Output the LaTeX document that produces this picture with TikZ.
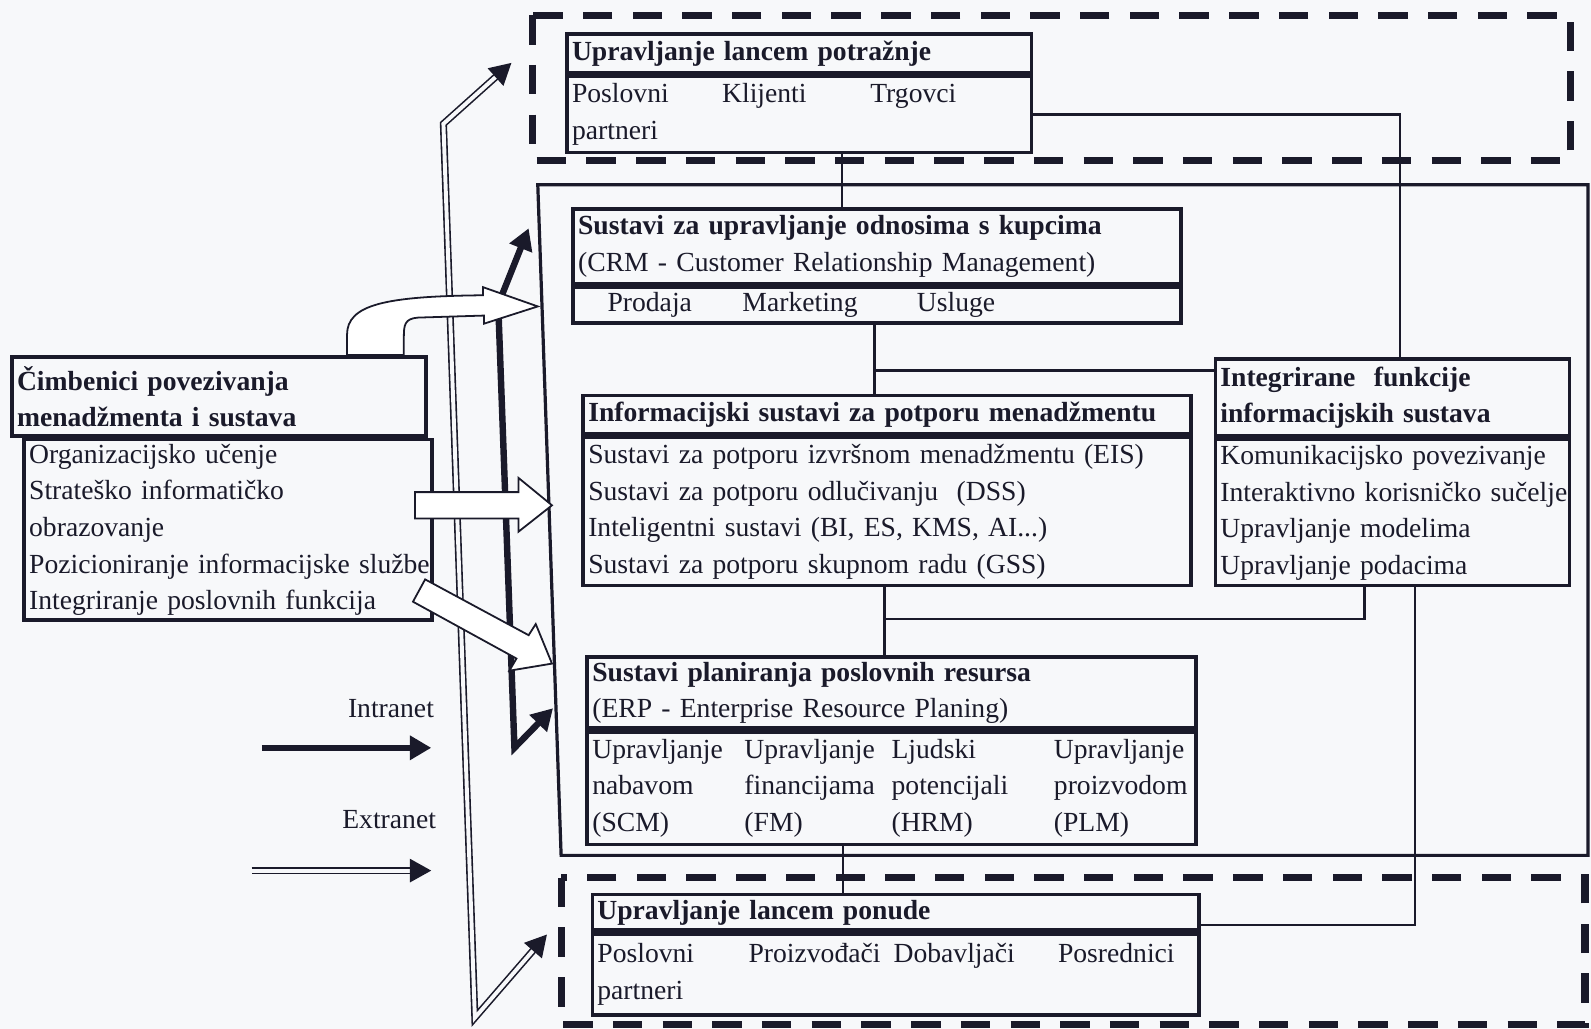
\documentclass[tikz,border=0pt]{standalone}
\usepackage{fontspec}
\setmainfont{Liberation Serif}
\usetikzlibrary{arrows.meta, positioning, calc}
\definecolor{ink}{HTML}{1A1A2A}
\definecolor{paper}{HTML}{F7F8FA}
\newcommand{\figfont}{\fontsize{15.5}{20.5}\selectfont}
\tikzset{
  head/.style     = {rectangle, draw=ink, line width=2pt, anchor=north west,
                      align=left, font=\figfont\bfseries, text=ink,
                      inner xsep=0.1cm, inner ysep=2pt},
  body/.style     = {rectangle, draw=ink, line width=2pt, align=left,
                      font=\figfont, text=ink, inner xsep=0.1cm, inner ysep=2pt},
  legend/.style   = {font=\figfont, text=ink, inner sep=0pt, anchor=east},
  frame/.style    = {draw=ink, line width=1.8pt},
  zone/.style     = {draw=ink, line width=4pt, dash pattern=on 0.58cm off 0.4cm},
  link/.style     = {draw=ink, line width=1.3pt},
  nettip/.tip     = {Triangle[length=0.42cm, width=0.46cm]},
  intranet/.style = {draw=ink, line width=3.6pt, line join=miter, -nettip},
  extranet/.style = {draw=ink, double=paper, double distance=2.2pt, line width=0.9pt,
                      line join=miter, -nettip},
  hollow/.style   = {draw=ink, fill=white, line width=1pt, line join=miter},
}

\begin{document}
\begin{tikzpicture}[x=0.02cm, y=-0.02cm]

\useasboundingbox (0,0) rectangle (1568,1014);
\fill[paper] (0,0) rectangle (1568,1014);

% ---- Zones ----
\draw[zone] (525,15) rectangle (1548,158);
\draw[frame] (530,182) -- (1565,182) -- (1565,843) -- (553,843) -- cycle;
\draw[zone] (553,865) rectangle (1562,1010);

% ---- Demand chain ----
\node[head, text width=8.96cm, minimum height=0.76cm] (demhead) at (557,32)
  {Upravljanje lancem potražnje};
\node[body, text width=8.96cm, minimum height=1.5cm, below=0pt of demhead] (dembody)
  {\makebox[2.96cm][l]{Poslovni}\makebox[2.92cm][l]{Klijenti}Trgovci\\ partneri};

% ---- CRM ----
\node[head, text width=11.78cm, minimum height=1.48cm] (crmhead) at (563,204)
  {Sustavi za upravljanje odnosima s kupcima\\
   \mdseries (CRM - Customer Relationship Management)};
\node[body, text width=11.78cm, minimum height=0.7cm, below=0pt of crmhead] (crmbody)
  {\hspace*{0.58cm}\makebox[2.66cm][l]{Prodaja}\makebox[3.44cm][l]{Marketing}Usluge};

% ---- Management support ----
\node[head, text width=11.78cm, minimum height=0.76cm] (mishead) at (573,388)
  {Informacijski sustavi za potporu menadžmentu};
\node[body, text width=11.78cm, minimum height=2.92cm, below=0pt of mishead] (misbody)
  {Sustavi za potporu izvršnom menadžmentu (EIS)\\
   Sustavi za potporu odlučivanju~ (DSS)\\
   Inteligentni sustavi (BI, ES, KMS, AI...)\\
   Sustavi za potporu skupnom radu (GSS)};

% ---- Integrated functions ----
\node[head, text width=6.78cm, minimum height=1.52cm] (inthead) at (1196,352)
  {Integrirane~ funkcije\\ informacijskih sustava};
\node[body, text width=6.78cm, minimum height=2.88cm, below=0pt of inthead] (intbody)
  {Komunikacijsko povezivanje\\
   \mbox{Interaktivno korisničko sučelje}\\
   Upravljanje modelima\\
   Upravljanje podacima};

% ---- ERP ----
\node[head, text width=11.8cm, minimum height=1.4cm] (erphead) at (577,646)
  {Sustavi planiranja poslovnih resursa\\
   \mdseries (ERP - Enterprise Resource Planing)};
\node[body, text width=11.8cm, minimum height=2.22cm, below=0pt of erphead] (erpbody)
  {\makebox[3cm][l]{Upravljanje}\makebox[2.9cm][l]{Upravljanje}\makebox[3.2cm][l]{Ljudski}Upravljanje\\
   \makebox[3cm][l]{nabavom}\makebox[2.9cm][l]{financijama}\makebox[3.2cm][l]{potencijali}proizvodom\\
   \makebox[3cm][l]{(SCM)}\makebox[2.9cm][l]{(FM)}\makebox[3.2cm][l]{(HRM)}(PLM)};

% ---- Supply chain ----
\node[head, text width=11.76cm, minimum height=0.7cm] (suphead) at (582,880)
  {Upravljanje lancem ponude};
\node[body, text width=11.76cm, minimum height=1.6cm, below=0pt of suphead] (supbody)
  {\makebox[2.98cm][l]{Poslovni}\makebox[2.86cm][l]{Proizvođači}\makebox[3.24cm][l]{Dobavljači}Posrednici\\
   partneri};

% ---- Factors ----
\node[head, text width=7.96cm, minimum height=1.56cm] (lefthead) at (10,350)
  {Čimbenici povezivanja\\ menadžmenta i sustava};
\node[body, text width=7.84cm, minimum height=3.56cm, below=0pt of lefthead, xshift=0.18cm] (leftbody)
  {Organizacijsko učenje\\
   Strateško informatičko\\
   obrazovanje\\
   \mbox{Pozicioniranje informacijske službe}\\
   Integriranje poslovnih funkcija};

% ---- Legend ----
\node[legend] (intrlbl) at (428,698) {Intranet};
\node[legend] (extrlbl) at (430,808) {Extranet};
\coordinate (intrA) at (258,737);
\coordinate (intrB) at (425,737);
\coordinate (extrA) at (248,858);
\coordinate (extrB) at (425,858);
\draw[intranet] (intrA) -- (intrB);
\draw[extranet] (extrA) -- (extrB);

% ===== Thin links between the systems =====
\draw[link] ([xshift=0.84cm]dembody.south) -- ([xshift=0.84cm]dembody.south |- crmhead.north);
\draw[link] (dembody.east) -| ([xshift=0.15cm]inthead.north);
\draw[link] ([xshift=-0.05cm]crmbody.south) -- ([xshift=-0.05cm]crmbody.south |- mishead.north);
\coordinate (crmjoin) at ([xshift=-0.05cm, yshift=-0.9cm]crmbody.south);
\draw[link] (crmjoin) -- (crmjoin -| inthead.west);
\draw[link] ([xshift=-0.05cm]misbody.south) -- ([xshift=-0.05cm]misbody.south |- erphead.north);
\coordinate (misjoin) at ([xshift=-0.05cm, yshift=-0.62cm]misbody.south);
\draw[link] (misjoin) -| ([xshift=-0.55cm]intbody.south);
\draw[link] ([xshift=0.45cm]intbody.south) |- ([yshift=-0.25cm]suphead.east);
\draw[link] ([xshift=-0.96cm]erpbody.south) -- ([xshift=-0.96cm]erpbody.south |- suphead.north);

% ===== Network lines =====
\coordinate (exSup) at (539,921);
\coordinate (exLow) at (468,1003);
\coordinate (exTop) at (437,122);
\coordinate (exDem) at (504,62);
\draw[extranet, nettip-nettip] (exSup) -- (exLow) -- (exTop) -- (exDem);

\coordinate (inErp) at (545,698);
\coordinate (inLow) at (507,737);
\coordinate (inTop) at (491,300);
\coordinate (inCrm) at (521,225);
\draw[intranet, nettip-nettip] (inErp) -- (inLow) -- (inTop) -- (inCrm);

% ===== Block arrows from the factors =====
\draw[hollow] (342,350) -- (342,330) .. controls (342,300) and (380,292) .. (476,291)
  -- (476,283) -- (530,302) -- (477,319) -- (477,311) -- (412,313)
  .. controls (399,314) and (398,320) .. (398,332) -- (398,350) -- cycle;
\draw[hollow] (409,485) -- (511,485) -- (511,471) -- (544,498) -- (511,524)
  -- (511,511) -- (409,511) -- cycle;
\draw[hollow] (419,571) -- (521,626) -- (528,615) -- (544,654) -- (502,661)
  -- (509,649) -- (407,593) -- cycle;

\end{tikzpicture}
\end{document}
